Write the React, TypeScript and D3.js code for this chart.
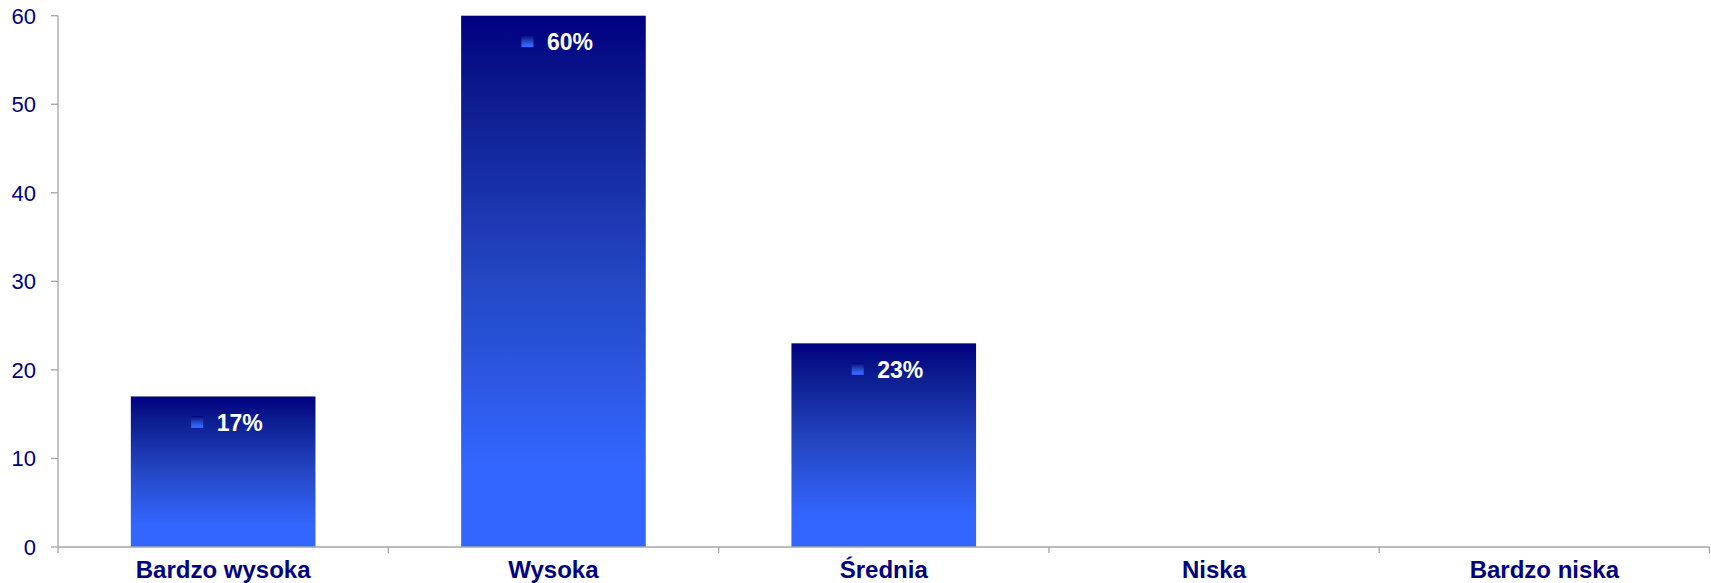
import React from "react";
import * as d3 from "d3";

const categories: string[] = ["Bardzo wysoka", "Wysoka", "Średnia", "Niska", "Bardzo niska"];
const values: (number | null)[] = [17, 60, 23, null, null];
const valueLabels: string[] = ["17%", "60%", "23%", "", ""];
const yTicks: number[] = [0, 10, 20, 30, 40, 50, 60];

const W = 1711;
const H = 583;
const left = 58;
const right = 1709.5;
const top = 15.7;
const bottom = 547;
const NAVY = "#000080";
const AXIS = "#a6a6a6";
const FONT = "'Liberation Sans', Arial, sans-serif";

export default function App() {
  const x = d3.scaleBand<string>().domain(categories).range([left, right]).paddingInner(0.441).paddingOuter(0.2205);
  const xOuter = d3.scaleBand<string>().domain(categories).range([left, right]);
  const y = d3.scaleLinear().domain([0, 60]).range([bottom, top]);

  return (
    <svg width={W} height={H} style={{ position: "absolute", left: 0, top: 0, background: "#fff" }}>
      <defs>
        <linearGradient id="barGrad" x1="0" y1="0" x2="0" y2="1">
          <stop offset="0" stopColor="#000080" />
          <stop offset="0.15" stopColor="#0c1b8f" />
          <stop offset="0.5" stopColor="#2447c4" />
          <stop offset="0.85" stopColor="#3366ff" />
          <stop offset="1" stopColor="#3366ff" />
        </linearGradient>
      </defs>
      {categories.map((c, i) => {
        const v = values[i];
        if (v == null) return null;
        const bx = x(c)!;
        const bw = x.bandwidth();
        const by = y(v);
        const cx = bx + bw / 2;
        return (
          <g key={c}>
            <rect x={bx} y={by} width={bw} height={bottom - by} fill="url(#barGrad)" />
            <rect x={cx - 32} y={by + 19.5} width={12} height={12} fill="url(#barGrad)" />
            <text
              x={cx - 6.5}
              y={by + 34.5}
              fill="#ffffff"
              fontFamily={FONT}
              fontWeight="bold"
              fontSize={23}
            >
              {valueLabels[i]}
            </text>
          </g>
        );
      })}
      <line x1={left} x2={left} y1={top} y2={bottom} stroke={AXIS} strokeWidth={1.3} />
      {yTicks.map((t) => (
        <g key={t}>
          <line x1={left - 7} x2={left} y1={y(t)} y2={y(t)} stroke={AXIS} strokeWidth={1.3} />
          <text
            x={36}
            y={y(t)}
            dy="0.36em"
            textAnchor="end"
            fill={NAVY}
            fontFamily={FONT}
            fontSize={22}
          >
            {t}
          </text>
        </g>
      ))}
      <line x1={left} x2={right} y1={bottom} y2={bottom} stroke={AXIS} strokeWidth={1.3} />
      {categories.map((c) => (
        <line
          key={"t" + c}
          x1={xOuter(c)!}
          x2={xOuter(c)!}
          y1={bottom}
          y2={bottom + 6}
          stroke={AXIS}
          strokeWidth={1.3}
        />
      ))}
      <line x1={right} x2={right} y1={bottom} y2={bottom + 6} stroke={AXIS} strokeWidth={1.3} />
      {categories.map((c) => (
        <text
          key={"l" + c}
          x={xOuter(c)! + xOuter.bandwidth() / 2}
          y={577.5}
          textAnchor="middle"
          fill={NAVY}
          fontFamily={FONT}
          fontWeight="bold"
          fontSize={24}
        >
          {c}
        </text>
      ))}
    </svg>
  );
}
